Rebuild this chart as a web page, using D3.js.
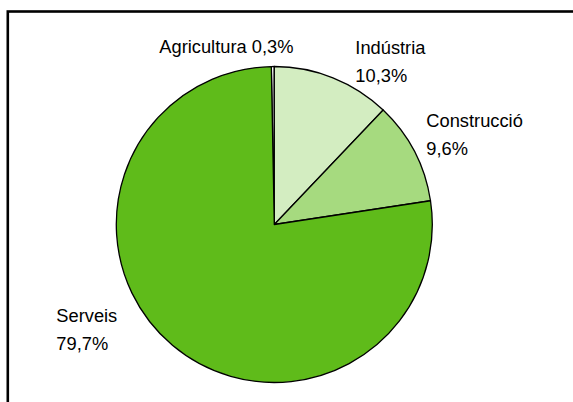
<!DOCTYPE html>
<html>
<head>
<meta charset="utf-8">
<script src="https://cdn.jsdelivr.net/npm/d3@7"></script>
<style>
  html, body { margin: 0; padding: 0; background: #fff; }
  svg { display: block; }
  text { font-family: "Liberation Sans", Arial, sans-serif; fill: #000; }
</style>
</head>
<body>
<div id="chart"></div>
<script>
// ---- data ----
const categories = ["Agricultura", "Indústria", "Construcció", "Serveis"];
// slice sizes as drawn in the picture (percent)
const shares = [0.3, 12.1, 10.5, 77.1];
// percentage labels as printed
const pctLabels = ["0,3%", "10,3%", "9,6%", "79,7%"];
const colors = ["#ffffff", "#d3edc1", "#a6da7f", "#5fbb1a"];

// ---- layout ----
const W = 573, H = 402;
const cx = 274.3, cy = 224.5, R = 158;
// label anchor offsets from the pie centre, and whether on one line
const labelLayout = {
  "Agricultura": { dx: -115, dy: -172, oneLine: true },
  "Indústria":   { dx: 81,   dy: -171, oneLine: false },
  "Construcció": { dx: 152,  dy: -98,  oneLine: false },
  "Serveis":     { dx: -218, dy: 97,   oneLine: false }
};
const fontSize = 18.3, lineGap = 28;

const svg = d3.select("#chart").append("svg")
  .attr("width", W).attr("height", H);

// frame (only top-left visible)
svg.append("rect")
  .attr("x", 7.8).attr("y", 11.5)
  .attr("width", 700).attr("height", 600)
  .attr("fill", "none").attr("stroke", "#000").attr("stroke-width", 2.6);

const data = categories.map((c, i) => ({ cat: c, value: shares[i], pct: pctLabels[i], color: colors[i] }));

const startOffset = -shares[0] / 100 * 2 * Math.PI;
const pie = d3.pie().value(d => d.value).sort(null)
  .startAngle(startOffset).endAngle(startOffset + 2 * Math.PI);
const arc = d3.arc().innerRadius(0).outerRadius(R);

const g = svg.append("g").attr("transform", `translate(${cx},${cy})`);
g.selectAll("path.slice").data(pie(data)).join("path")
  .attr("class", "slice")
  .attr("d", arc)
  .attr("fill", d => d.data.color)
  .attr("stroke", "#000")
  .attr("stroke-width", 1.3)
  .attr("stroke-linejoin", "round");

// labels
const lg = svg.append("g").attr("transform", `translate(${cx},${cy})`);
data.forEach(d => {
  const L = labelLayout[d.cat];
  const t = lg.append("text")
    .attr("x", L.dx).attr("y", L.dy)
    .attr("font-size", fontSize);
  if (L.oneLine) {
    t.text(d.cat + " " + d.pct);
  } else {
    t.append("tspan").attr("x", L.dx).attr("y", L.dy).text(d.cat);
    t.append("tspan").attr("x", L.dx).attr("y", L.dy + lineGap).text(d.pct);
  }
});
</script>
</body>
</html>
